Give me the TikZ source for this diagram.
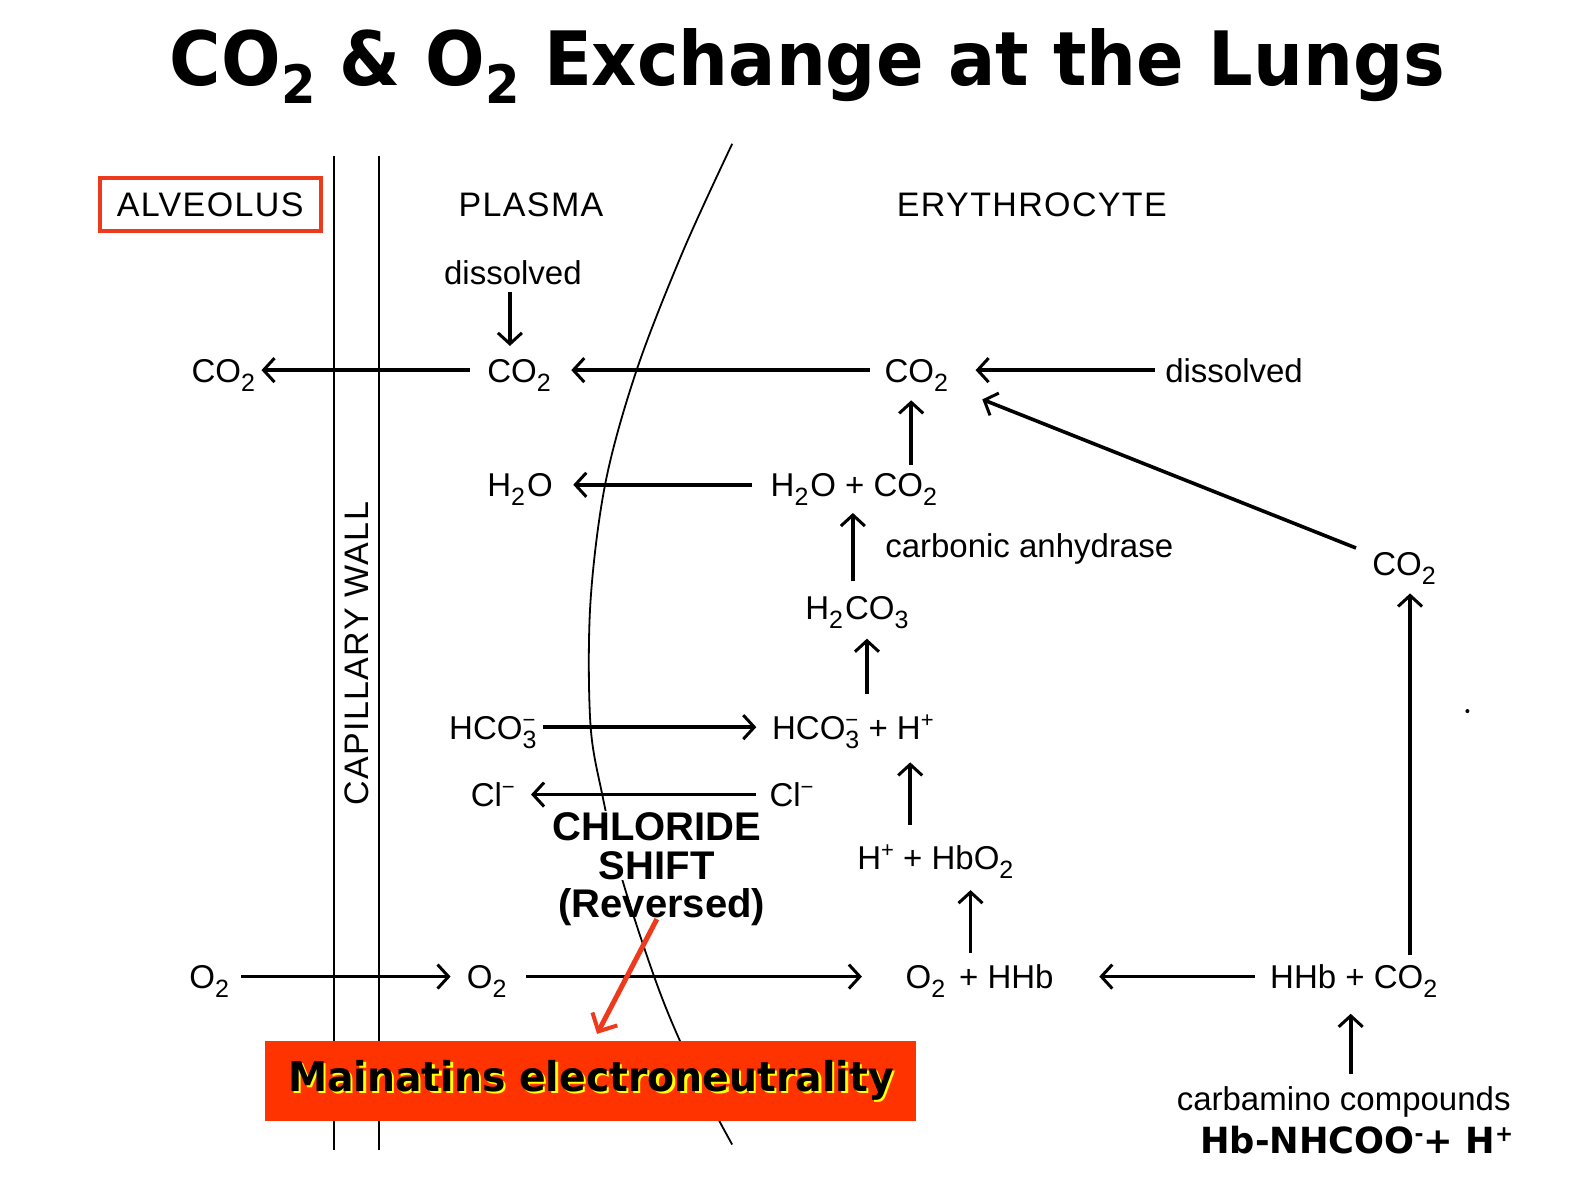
\documentclass[tikz,border=0pt]{standalone}
\usepackage{fontspec}
\setmainfont{Liberation Sans}
\newfontfamily\vfont{DejaVu Sans}
\newfontfamily\capfont[LetterSpace=4]{Liberation Sans}
\usetikzlibrary{arrows.meta}
\definecolor{alvred}{HTML}{EE3A1C}
\definecolor{boxred}{HTML}{FF3300}
\definecolor{shadowyel}{HTML}{FFFF00}
\newcommand\fs[1]{\fontsize{#1}{#1}\selectfont}
\newcommand\sbs[1]{\raisebox{-9pt}{\fs{25}#1}}
\newcommand\sps[1]{\raisebox{12pt}{\fs{22}#1}}
\newcommand\sbsp[2]{\rlap{\sps{#2}}\sbs{#1}}
\newcommand\tsub[1]{\raisebox{-18pt}{\fs{53}#1}}
\begin{document}
\begin{tikzpicture}[x=1.0057pt,y=-1.0057pt,
  chem/.style={inner sep=0pt, text height=24pt, text depth=0pt, font=\fs{33}},
  caps/.style={inner sep=0pt, text height=24pt, text depth=0pt, font={\capfont\fs{34}}},
  arr/.style={line width=3.6pt, -{Straight Barb[length=11pt,width=24pt,line width=3pt]}},
  wall/.style={line width=2pt},
]
\fill[white] (0,0) rectangle (1568,1178);
\useasboundingbox (0,0) rectangle (1568,1178);

% title
\node[inner sep=0pt, text height=55pt, text depth=0pt, font={\vfont\bfseries\fs{75}}] (title) at (803,58)
  {\scalebox{0.935}[1]{CO\tsub{2} \& O\tsub{2} Exchange at the Lungs}};

% walls and membrane
\draw[wall] (332,155) -- (332,1143);
\draw[wall] (377,155) -- (377,1143);
\draw[line width=1.8pt] plot[smooth, tension=0.55] coordinates
  {(728,143) (679,250) (633,368) (602,480) (587,600) (587,719) (599,791) (618,872) (649,967) (673,1028) (705,1095) (728,1138)};

% region labels
\node[caps, draw=alvred, line width=4pt, minimum width=221pt, minimum height=53pt] (alv) at (209,203) {ALVEOLUS};
\node[caps] (plasma) at (528,203) {PLASMA};
\node[caps] (eryth) at (1026,203) {ERYTHROCYTE};
\node[caps, rotate=90] (wallt) at (354,650) {CAPILLARY WALL};

% chemistry
\node[chem] (dis1) at (510,271) {dissolved};
\node[chem] (co2a) at (222,368) {CO\sbs{2}};
\node[chem] (co2p) at (516,368) {CO\sbs{2}};
\node[chem] (co2e) at (911,368) {CO\sbs{2}};
\node[chem] (dis2) at (1227,368) {dissolved};
\node[chem] (h2o) at (517,482) {H\sbs{2}\kern2pt O};
\node[chem] (h2oco2) at (849,482) {H\sbs{2}\kern2pt O + CO\sbs{2}};
\node[chem, anchor=west] (carb) at (880,542) {carbonic anhydrase};
\node[chem] (h2co3) at (852,604) {H\sbs{2}\kern2pt CO\sbs{3}};
\node[chem] (hco3a) at (490,723) {HCO\sbsp{3}{−}};
\node[chem] (hco3b) at (848,723) {HCO\sbsp{3}{−} + H\sps{+}};
\node[chem] (cla) at (490,790) {Cl\sps{−}};
\node[chem] (clb) at (787,790) {Cl\sps{−}};
\node[chem] (hhbo2) at (930,853) {H\sps{+} + HbO\sbs{2}};
\node[chem] (o2a) at (208,971) {O\sbs{2}};
\node[chem] (o2b) at (484,971) {O\sbs{2}};
\node[chem] (o2hhb) at (974,971) {O\sbs{2}\kern14pt + HHb};
\node[chem] (hhbco2) at (1346,971) {HHb + CO\sbs{2}};
\node[chem] (co2r) at (1396,560) {CO\sbs{2}};
\node[chem] (carbam) at (1336,1092) {carbamino compounds};
\node[inner sep=0pt, text height=27pt, text depth=0pt, font={\vfont\bfseries\fs{36}}] (hbnh) at (1349,1133)
  {\scalebox{0.98}[1]{Hb-NHCOO\sps{-}+ H\sps{+}}};

\node[inner sep=1pt, fill=white, align=center, font={\bfseries\fs{40}}, text depth=0pt] (chl) at (653,841)
  {\fontsize{40}{37.5}\selectfont CHLORIDE\\[-1pt]SHIFT};
\node[inner sep=0pt, text height=28pt, text depth=0pt, font={\bfseries\fs{40}}] (rev) at (658,898) {(Reversed)};

% arrows
\draw[arr] (co2p.west -| 467,0) -- (co2a.east -| 260,0);
\draw[arr] (co2e.west -| 865,0) -- (co2p.east -| 568,0);
\draw[arr] (dis2.west -| 1148,0) -- (co2e.east -| 970,0);
\draw[arr, shorten <=7pt, shorten >=12pt] (dis1.south -| 507,0) -- (co2p.north -| 507,0);
\draw[arr, shorten <=8pt, shorten >=18pt] (h2oco2.north -| 906,0) -- (co2e.south -| 906,0);
\draw[arr] (h2oco2.west -| 748,0) -- (h2o.east -| 570,0);
\draw[arr, shorten <=14pt, shorten >=16pt] (h2co3.north -| 848,0) -- (h2oco2.south -| 848,0);
\draw[arr, shorten <=21pt, shorten >=19pt] (hco3b.north -| 862,0) -- (h2co3.south -| 862,0);
\draw[arr] (hco3a.east -| 540,0) -- (hco3b.west -| 752,0);
\draw[arr] (clb.west -| 752,0) -- (cla.east -| 528,0);
\draw[arr, shorten <=21pt, shorten >=23pt] (hhbo2.north -| 905,0) -- (hco3b.south -| 905,0);
\draw[arr, shorten <=11pt, shorten >=20pt] (o2hhb.north -| 965,0) -- (hhbo2.south -| 965,0);
\draw[arr] (o2a.east -| 240,0) -- (o2b.west -| 448,0);
\draw[arr] (o2b.east -| 523,0) -- (o2hhb.west -| 857,0);
\draw[arr] (hhbco2.west -| 1248,0) -- (o2hhb.east -| 1093,0);
\draw[arr, shorten <=9pt, shorten >=18pt] (hhbco2.north -| 1402,0) -- (co2r.south -| 1402,0);
\draw[arr] ([shift={(-16,-3)}]co2r.north west) -- ([shift={(34,17)}]co2e.south east);
\draw[arr, shorten <=12pt, shorten >=25pt] (carbam.north -| 1343,0) -- (hhbco2.south -| 1343,0);

% message box
\node[fill=boxred, minimum width=651pt, minimum height=80pt, inner sep=0pt,
      font={\vfont\bfseries\fs{41}}] (msg) at (587.5,1075)
  {\scalebox{0.96}[1]{\rlap{\kern2.5pt\raisebox{-2.5pt}{\color{shadowyel}Mainatins electroneutrality}}Mainatins electroneutrality}};
\draw[line width=5pt, alvred, -{Straight Barb[length=14pt,width=28pt,line width=4pt]}, shorten <=2pt, shorten >=8pt]
  (rev.south -| 654,0) -- (msg.north -| 590,0);

\fill (1459,707) circle (2);
\end{tikzpicture}
\end{document}
